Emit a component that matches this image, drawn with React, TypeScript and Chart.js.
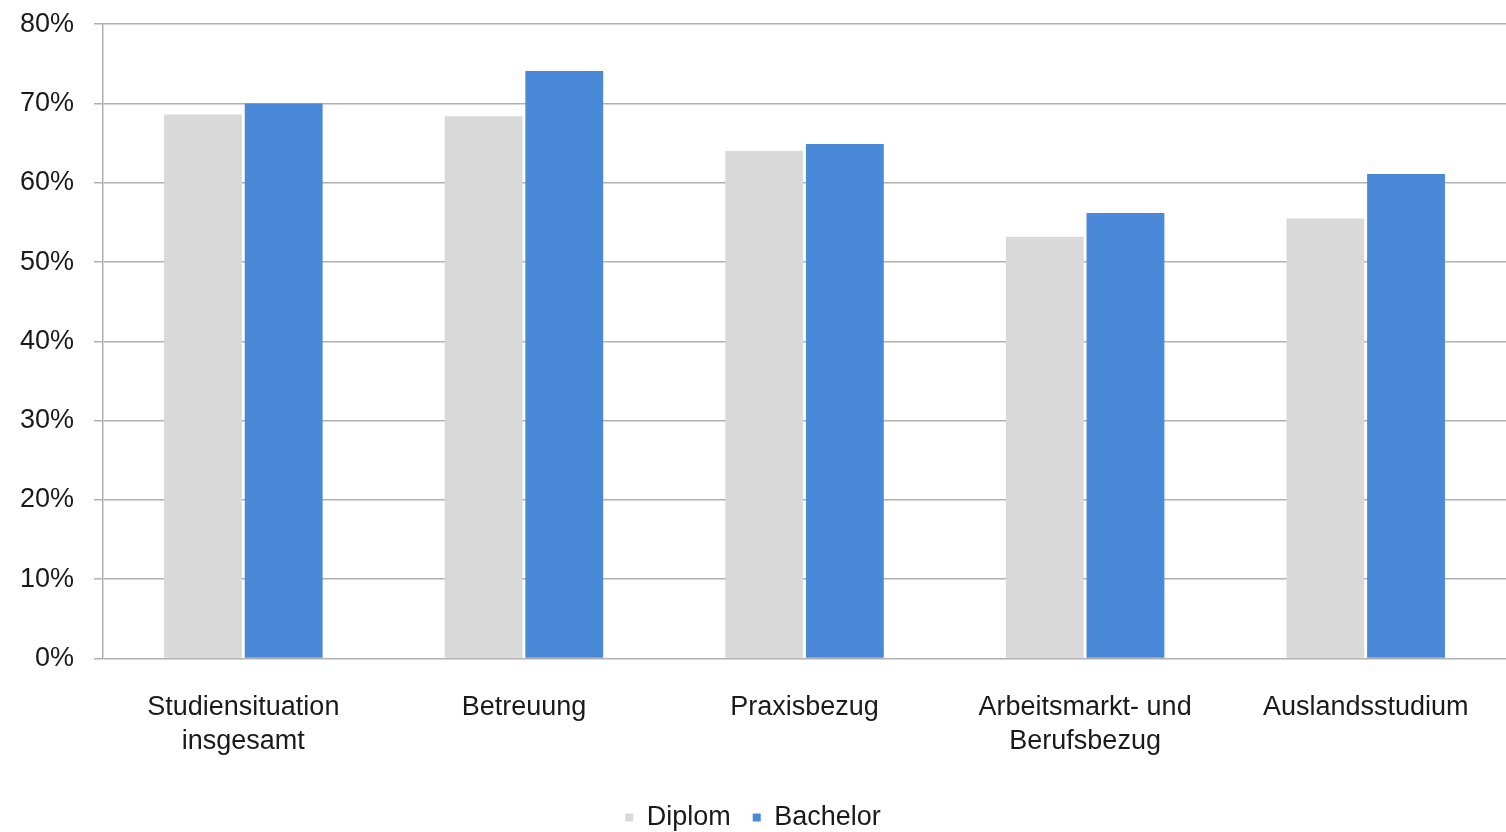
import React, { useEffect, useRef } from "react";
import { Chart, registerables } from "chart.js";

Chart.register(...registerables);

const categories: (string | string[])[] = [
  ["Studiensituation", "insgesamt"],
  "Betreuung",
  "Praxisbezug",
  ["Arbeitsmarkt- und", "Berufsbezug"],
  "Auslandsstudium",
];

const diplomValues = [68.6, 68.4, 64.0, 53.2, 55.5];
const bachelorValues = [70.0, 74.1, 64.9, 56.2, 61.1];

const yTicks = [0, 10, 20, 30, 40, 50, 60, 70, 80];

const FONT = "'Liberation Sans', Arial, Helvetica, sans-serif";

// the canvas is a little taller than the page and shifted up, so the
// outer whitespace around the plot stays tight
const CANVAS_W = 1506;
const CANVAS_H = 853;
const CANVAS_TOP = -12;

export default function App() {
  const canvasRef = useRef<HTMLCanvasElement | null>(null);

  useEffect(() => {
    document.body.style.margin = "0";
    document.body.style.overflow = "hidden";
    const canvas = canvasRef.current;
    if (!canvas) return;

    const chart = new Chart(canvas, {
      type: "bar",
      data: {
        labels: categories,
        datasets: [
          {
            label: "Diplom",
            data: diplomValues,
            backgroundColor: "#d9d9d9",
            borderWidth: 0,
            categoryPercentage: 0.575,
            barPercentage: 0.965,
          },
          {
            label: "Bachelor",
            data: bachelorValues,
            backgroundColor: "#4a88d8",
            borderWidth: 0,
            categoryPercentage: 0.575,
            barPercentage: 0.965,
          },
        ],
      },
      options: {
        responsive: false,
        animation: false,
        layout: { padding: { top: 0, left: 0, right: 0, bottom: 0 } },
        plugins: {
          tooltip: { enabled: false },
          legend: {
            position: "bottom",
            labels: {
              usePointStyle: true,
              pointStyle: "rect",
              boxWidth: 8,
              boxHeight: 8,
              padding: 22,
              color: "#1a1a1a",
              font: { family: FONT, size: 27 },
            },
          },
        },
        scales: {
          x: {
            grid: { display: false },
            border: { display: false },
            ticks: {
              color: "#1a1a1a",
              padding: 24,
              maxRotation: 0,
              autoSkip: false,
              font: { family: FONT, size: 27, lineHeight: 1.25 },
            },
          },
          y: {
            min: 0,
            max: 80,
            afterBuildTicks: (axis: any) => {
              axis.ticks = yTicks.map((v) => ({ value: v }));
            },
            grid: {
              color: "#b0b0b0",
              lineWidth: 1.5,
              tickLength: 9,
            },
            border: { display: true, color: "#b0b0b0", width: 1.5 },
            ticks: {
              color: "#1a1a1a",
              padding: 20,
              font: { family: FONT, size: 27 },
              callback: (v: any) => v + "%",
            },
          },
        },
      },
    });

    return () => chart.destroy();
  }, []);

  return (
    <div style={{ position: "absolute", left: 0, top: 0, width: 1506, height: 832, overflow: "hidden", background: "#fff" }}>
      <canvas
        ref={canvasRef}
        width={CANVAS_W}
        height={CANVAS_H}
        style={{ display: "block", position: "absolute", left: 0, top: CANVAS_TOP }}
      />
    </div>
  );
}
